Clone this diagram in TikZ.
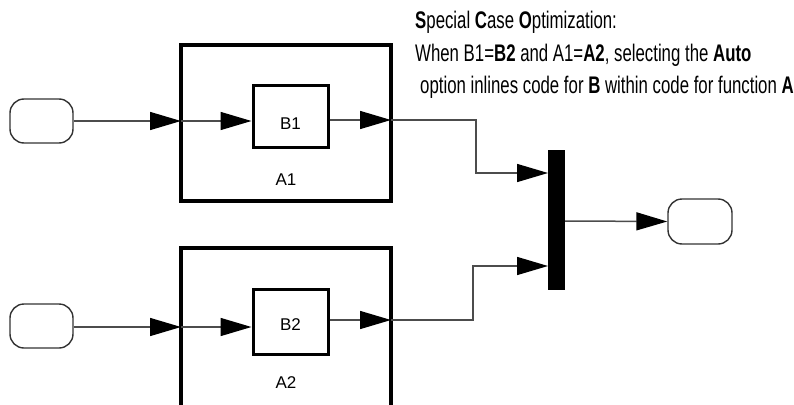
\documentclass[tikz,border=0pt]{standalone}
\usepackage{fontspec}
\setmainfont{Liberation Sans}
\newfontfamily\condfont[FakeStretch=0.7]{Liberation Sans}
\usetikzlibrary{arrows.meta}
\tikzset{
  port/.style={draw=black!80, line width=1.4pt, rounded corners=14pt, minimum width=63pt, minimum height=44pt, inner sep=0pt},
  outer/.style={draw, line width=4pt, inner sep=0pt},
  inner/.style={draw, line width=3pt, inner sep=0pt, minimum width=75pt, minimum height=62pt},
  lbl/.style={font=\fontsize{17}{20}\selectfont, inner sep=0pt},
  wire/.style={draw=black!70, line width=1.5pt, -{Triangle[length=31pt,width=18pt,color=black]}},
  note/.style={font=\condfont\fontsize{24}{27}\selectfont, anchor=west, inner sep=0pt}
}
\begin{document}
\begin{tikzpicture}[x=1pt,y=-1pt]
\clip (0,0) rectangle (794,404);
\fill[white] (0,0) rectangle (794,404);
% subsystem A1
\node[outer, minimum width=210pt, minimum height=156pt] (A1) at (286,123) {};
\node[inner] (B1) at (290.5,116) {};
\node[lbl] (B1t) at (290.5,124) {B1};
\node[lbl] (A1t) at (286,180) {A1};
% subsystem A2
\node[outer, minimum width=210pt, minimum height=200pt] (A2) at (286,348) {};
\node[inner, minimum height=65pt] (B2) at (290.5,321.5) {};
\node[lbl] (B2t) at (290.5,325) {B2};
\node[lbl] (A2t) at (286,383) {A2};
% ports
\node[port] (in1) at (41.5,121) {};
\node[port] (in2) at (41.5,326) {};
\node[port, minimum width=64pt, minimum height=45pt] (out) at (700,221.5) {};
% mux
\node[fill=black, minimum width=17pt, minimum height=140pt, inner sep=0pt] (mux) at (556.5,220) {};
% coordinates
\coordinate (a1in) at (181,121);
\coordinate (a2in) at (181,327);
\coordinate (a1out) at (391,120);
\coordinate (a2out) at (391,320);
\coordinate (m1) at (548,173);
\coordinate (m2) at (548,266);
\coordinate (mo) at (565,221);
% wires
\draw[wire] (in1.east |- a1in) -- (a1in);
\draw[wire] (a1in) -- (B1.west |- a1in);
\draw[wire] (B1.east |- a1out) -- (a1out);
\draw[wire] (in2.east |- a2in) -- (a2in);
\draw[wire] (a2in) -- (B2.west |- a2in);
\draw[wire] (B2.east |- a2out) -- (a2out);
\draw[wire] (a1out) -- (476,120) -- (476,173) -- (m1);
\draw[wire] (a2out) -- (473,320) -- (473,266) -- (m2);
\draw[wire] (mo) -- (out.west);
% note
\node[note] (n1) at (415,22) {\textbf{S}pecial \textbf{C}ase \textbf{O}ptimization:};
\node[note] (n2) at (415,55) {When B1=\textbf{B2} and A1=\textbf{A2}, selecting the \textbf{Auto}};
\node[note] (n3) at (420,87) {option inlines code for \textbf{B} within code for function \textbf{A}};
\end{tikzpicture}
\end{document}
